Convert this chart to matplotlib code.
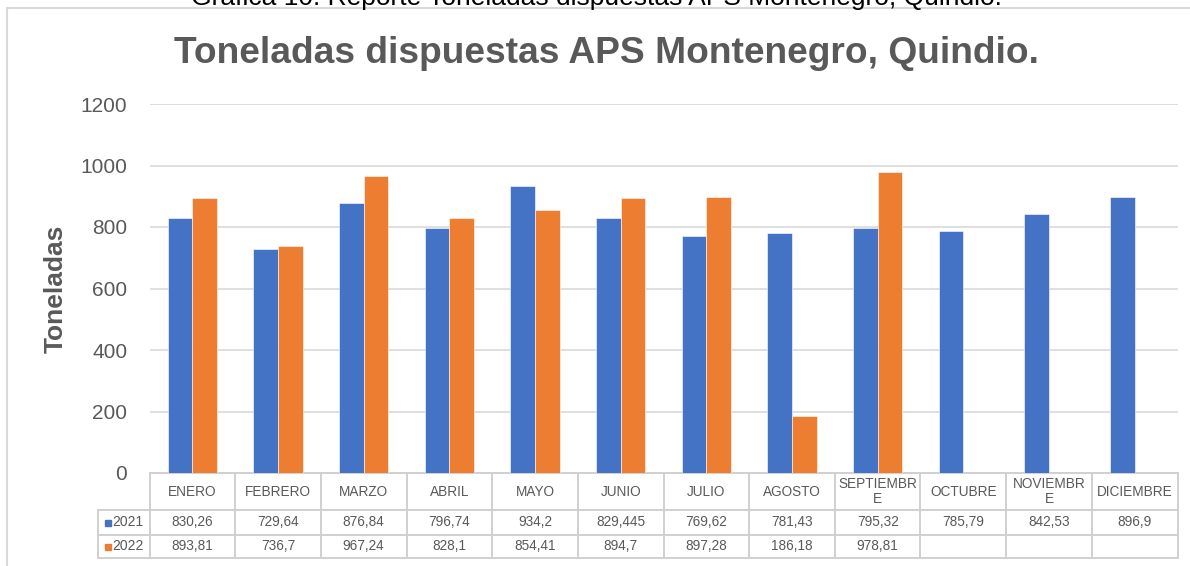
import matplotlib.pyplot as plt
from matplotlib.patches import Rectangle
import numpy as np

plt.rcParams['font.family'] = ['Liberation Sans', 'DejaVu Sans']

# monthly tonnage, two years (2022 only reported through September)
meses = ['ENERO', 'FEBRERO', 'MARZO', 'ABRIL', 'MAYO', 'JUNIO', 'JULIO',
         'AGOSTO', 'SEPTIEMBR\nE', 'OCTUBRE', 'NOVIEMBR\nE', 'DICIEMBRE']
ton_2021 = [830.26, 729.64, 876.84, 796.74, 934.2, 829.445, 769.62,
            781.43, 795.32, 785.79, 842.53, 896.9]
ton_2022 = [893.81, 736.7, 967.24, 828.1, 854.41, 894.7, 897.28,
            186.18, 978.81]
series = [('2021', ton_2021, '#4472C4'), ('2022', ton_2022, '#ED7D31')]
yticks = [0, 200, 400, 600, 800, 1000, 1200]

gris = '#595959'
linea = '#D9D9D9'
W, H = 1190, 566

fig = plt.figure(figsize=(W / 100, H / 100), dpi=100)

# outer chart frame (runs past the right and bottom edges)
fig.patches.append(Rectangle((7 / W, -0.1), 1.2, 1.1 - 8 / H,
                             transform=fig.transFigure, fill=False,
                             edgecolor=linea, lw=1.5))

# caption line, mostly cut off at the top
fig.text(596 / W, 1 - 5 / H,
         'Gráfica 10. Reporte Toneladas dispuestas APS Montenegro, Quindio.',
         ha='center', va='baseline', fontsize=19, color='black')

fig.text(606 / W, 1 - 63 / H, 'Toneladas dispuestas APS Montenegro, Quindio.',
         ha='center', va='baseline', fontsize=26.7, fontweight='bold', color=gris)

left, right, top, bottom = 149.5, 1177.5, 104, 473
ax = fig.add_axes([left / W, 1 - bottom / H, (right - left) / W, (bottom - top) / H])

n = len(meses)
x = np.arange(n) + 0.5
w = 0.286
for k, (nombre, vals, color) in enumerate(series):
    xs = x[:len(vals)] + (k - 0.5) * w
    ax.bar(xs, vals, width=w, color=color, edgecolor='white', lw=0.4, zorder=3)

ax.set_xlim(0, n)
ax.set_ylim(0, 1200)
ax.set_yticks(yticks)
ax.set_xticks([])
ax.tick_params(axis='y', length=0, pad=16, labelsize=15, labelcolor=gris)
ax.grid(axis='y', color=linea, lw=1.2, zorder=0)
for s in ax.spines.values():
    s.set_visible(False)

fig.text(56 / W, 1 - 289 / H, 'Toneladas', rotation=90, ha='center',
         va='center', fontsize=19, fontweight='bold', color=gris)

# data table under the axis
tr = ax.get_xaxis_transform()
hpx = bottom - top
y_hdr = 0.0
y_r1 = -(510 - bottom) / hpx
y_r2 = -(535 - bottom) / hpx
y_end = -(558 - bottom) / hpx
x_lab = -(left - 98) / (right - left) * n
tc = '#D0D0D0'
kw = dict(transform=tr, clip_on=False, color=tc, lw=1.4)

ax.plot([0, n], [y_hdr, y_hdr], **kw)
for yy in (y_r1, y_r2, y_end):
    ax.plot([x_lab, n], [yy, yy], **kw)
for i in range(n + 1):
    ax.plot([i, i], [y_hdr, y_end], **kw)
ax.plot([x_lab, x_lab], [y_r1, y_end], **kw)

for i, m in enumerate(meses):
    ax.text(i + 0.5, (y_hdr + y_r1) / 2, m, transform=tr, ha='center',
            va='center', fontsize=9.8, color=gris, linespacing=1.05)

filas = [(y_r1, y_r2), (y_r2, y_end)]
for (nombre, vals, color), (ya, yb) in zip(series, filas):
    ym = (ya + yb) / 2
    ax.plot([x_lab + 0.117], [ym], marker='s', ms=4.6, color=color,
            transform=tr, clip_on=False, lw=0)
    ax.text(x_lab + 0.165, ym, nombre, transform=tr, ha='left', va='center',
            fontsize=10, color=gris)
    for i, v in enumerate(vals):
        ax.text(i + 0.5, ym, str(v).replace('.', ','), transform=tr,
                ha='center', va='center', fontsize=9.8, color=gris)

fig.savefig('out.png', dpi=100)
